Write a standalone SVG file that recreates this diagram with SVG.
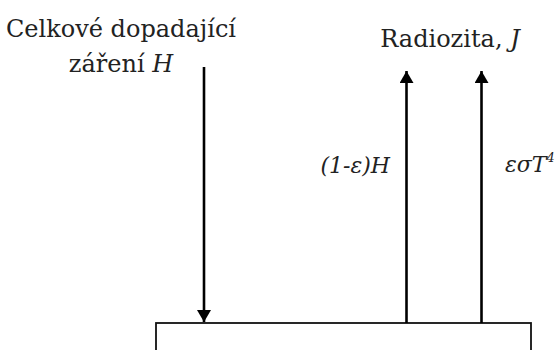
<svg xmlns="http://www.w3.org/2000/svg" width="558" height="350" viewBox="0 0 558 350">
<style>
text{font-family:"DejaVu Serif","Liberation Serif",serif;font-size:24px;fill:#222}
.it{font-style:italic}
.lbl{font-size:22px}
.ar{stroke:#000;stroke-width:2.6;fill:none}
.box{stroke:#111;stroke-width:1.8;fill:#fff}
</style>
<defs>
<marker id="ah" viewBox="0 0 12 14" refX="12" refY="7" markerWidth="12" markerHeight="14" markerUnits="userSpaceOnUse" orient="auto">
<path d="M0,0 L12,7 L0,14 Z" fill="#000"/>
</marker>
</defs>
<rect width="558" height="350" fill="#fff"/>
<g id="surface">
<rect class="box" x="156" y="323" width="375" height="40"/>
</g>
<g id="connectors">
<line class="ar" x1="204" y1="67" x2="204" y2="322" marker-end="url(#ah)"/>
<line class="ar" x1="406.5" y1="323" x2="406.5" y2="71" marker-end="url(#ah)"/>
<line class="ar" x1="481.5" y1="323" x2="481.5" y2="71" marker-end="url(#ah)"/>
</g>
<g id="incident">
<text x="121" y="37" text-anchor="middle">Celkové dopadající</text>
<text x="121" y="72" text-anchor="middle">záření <tspan class="it">H</tspan></text>
</g>
<g id="radiosity">
<text x="450" y="47" text-anchor="middle">Radiozita, <tspan class="it">J</tspan></text>
</g>
<g id="reflected">
<text class="it lbl" x="390" y="173" text-anchor="end">(1-ε)H</text>
</g>
<g id="emitted">
<text class="it lbl" x="505" y="172">εσT<tspan font-size="13" dy="-10">4</tspan></text>
</g>
</svg>
